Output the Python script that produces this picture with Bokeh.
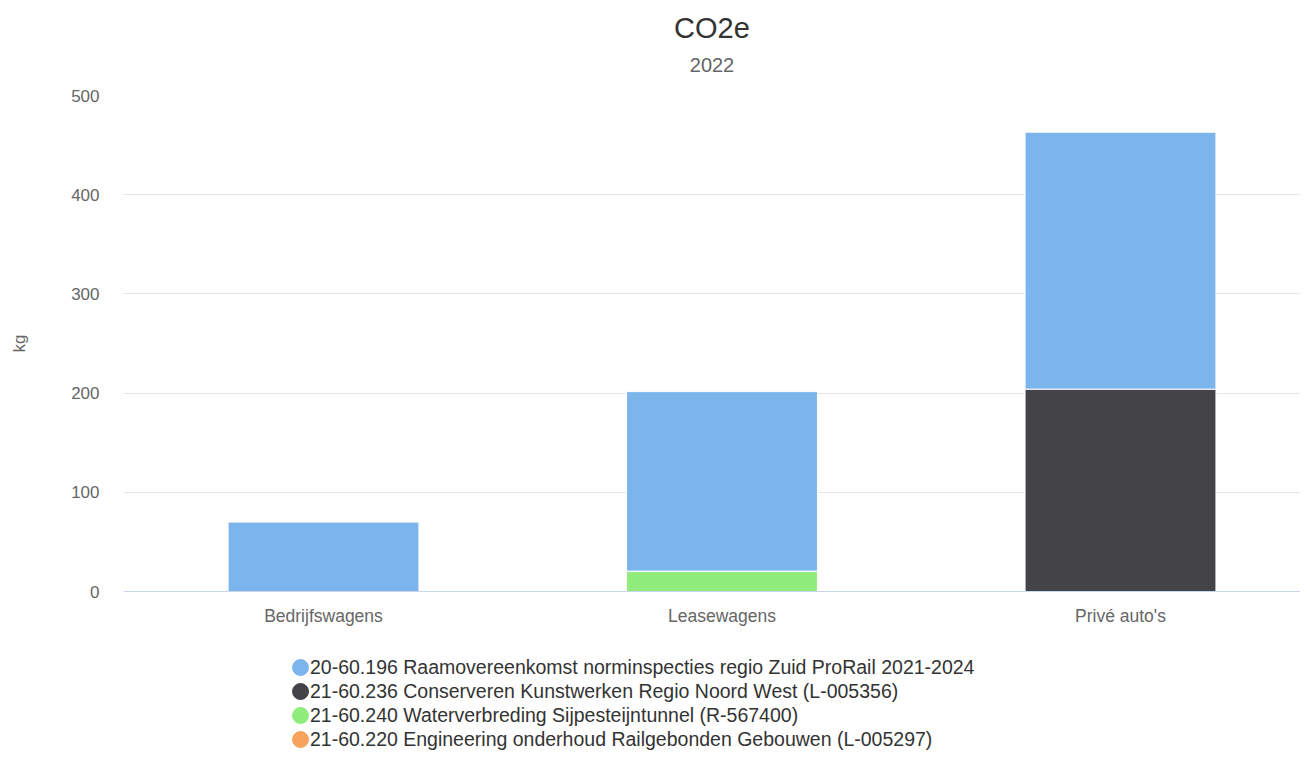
from bokeh.plotting import figure
from bokeh.layouts import column
from bokeh.models import Range1d, FixedTicker, Legend, LegendItem, Title, ColumnDataSource
from bokeh.embed import file_html
from bokeh.resources import INLINE

categories = ["Bedrijfswagens", "Leasewagens", "Privé auto's"]
series_names = [
    "20-60.196 Raamovereenkomst norminspecties regio Zuid ProRail 2021-2024",
    "21-60.236 Conserveren Kunstwerken Regio Noord West (L-005356)",
    "21-60.240 Waterverbreding Sijpesteijntunnel (R-567400)",
    "21-60.220 Engineering onderhoud Railgebonden Gebouwen (L-005297)",
]
s_196 = [70, 181, 259]
s_236 = [0, 0, 204]
s_240 = [0, 20.5, 0]
s_220 = [0, 0, 0]
colors = ["#7cb5ec", "#434348", "#90ed7d", "#f7a35c"]
y_ticks = [0, 100, 200, 300, 400, 500]

FONT = "Liberation Sans"

xs = list(range(len(categories)))
src = ColumnDataSource(dict(x=xs, s196=s_196, s236=s_236, s240=s_240, s220=s_220))

p = figure(
    width=1300, height=631,
    x_range=Range1d(-0.5019, 2.4517), y_range=Range1d(0, 500),
    output_backend="svg", toolbar_location=None,
    min_border_left=123, min_border_right=0, min_border_top=95, min_border_bottom=40,
)
p.outline_line_color = None
p.background_fill_color = "white"
p.border_fill_color = "white"

# Stack bottom -> top (Highcharts puts first series on top)
stackers = ["s220", "s240", "s236", "s196"]
stack_colors = [colors[3], colors[2], colors[1], colors[0]]
p.vbar_stack(stackers, x="x", width=0.479, source=src, color=stack_colors,
             line_color="white", line_width=1)

# axes
p.xaxis.ticker = FixedTicker(ticks=xs)
p.xaxis.major_label_overrides = {i: c for i, c in enumerate(categories)}
p.xaxis.major_tick_line_color = None
p.xaxis.major_tick_out = 0
p.xaxis.major_tick_in = 0
p.xaxis.minor_tick_line_color = None
p.xaxis.axis_line_color = "#ccd6eb"
p.xaxis.major_label_text_font = FONT
p.xaxis.major_label_text_font_size = "17.5px"
p.xaxis.major_label_text_color = "#666666"
p.xaxis.major_label_standoff = 14

p.yaxis.ticker = FixedTicker(ticks=y_ticks)
p.yaxis.major_tick_line_color = None
p.yaxis.major_tick_out = 0
p.yaxis.major_tick_in = 0
p.yaxis.minor_tick_line_color = None
p.yaxis.axis_line_color = None
p.yaxis.major_label_text_font = FONT
p.yaxis.major_label_text_font_size = "17px"
p.yaxis.major_label_text_color = "#666666"
p.yaxis.major_label_standoff = 24
p.yaxis.axis_label = "kg"
p.yaxis.axis_label_text_font = FONT
p.yaxis.axis_label_text_font_size = "17px"
p.yaxis.axis_label_text_font_style = "normal"
p.yaxis.axis_label_text_color = "#666666"
p.yaxis.axis_label_standoff = 39

p.xgrid.grid_line_color = None
p.ygrid.grid_line_color = "#e6e6e6"
p.ygrid.ticker = FixedTicker(ticks=y_ticks)

# titles (subtitle first: closest to the plot)
p.add_layout(Title(text="2022", align="center", text_font=FONT, text_font_size="20px",
                   text_color="#666666", text_font_style="normal", standoff=48), "above")
p.add_layout(Title(text="CO2e", align="center", text_font=FONT, text_font_size="29px",
                   text_color="#333333", text_font_style="normal", standoff=-24), "above")

# legend figure below the chart, with round glyphs
lf = figure(width=1300, height=128, output_backend="svg", toolbar_location=None,
            x_axis_type=None, y_axis_type=None,
            x_range=Range1d(1, 2), y_range=Range1d(1, 2),
            min_border_left=0, min_border_right=0, min_border_top=0, min_border_bottom=0)
lf.outline_line_color = None
lf.xgrid.visible = False
lf.ygrid.visible = False
items = []
for name, c in zip(series_names, colors):
    # placeholder kept outside the legend figure's range; only its legend glyph shows
    r = lf.ellipse(x=[0], y=[0], width=16, height=16, width_units="screen",
                   height_units="screen", fill_color=c, line_color=c)
    items.append(LegendItem(label=name, renderers=[r]))
legend = Legend(items=items, orientation="vertical", location=(167, 8),
                label_text_font=FONT, label_text_font_size="19.5px",
                label_text_color="#333333", glyph_width=20, glyph_height=24,
                label_height=24, label_standoff=0, spacing=0, padding=0,
                margin=0, border_line_color=None, background_fill_alpha=0)
lf.add_layout(legend, "center")

layout = column(p, lf, spacing=0)

open("out.html", "w").write(file_html(layout, INLINE))
